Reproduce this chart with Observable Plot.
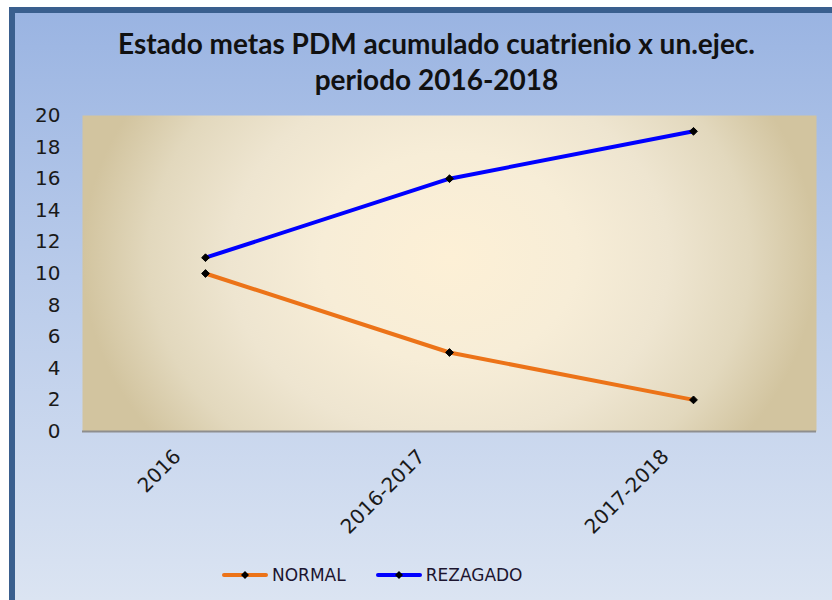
<!DOCTYPE html>
<html>
<head>
<meta charset="utf-8">
<script src="https://cdn.jsdelivr.net/npm/d3@7"></script>
<script src="https://cdn.jsdelivr.net/npm/@observablehq/plot@0.6"></script>
<style>
  html, body { margin: 0; padding: 0; background: #ffffff; }
  #wrap { position: relative; width: 832px; height: 600px; overflow: hidden; }
  #panel {
    position: absolute; left: 9px; top: 7px; width: 823px; height: 593px;
    box-sizing: border-box;
    border-left: 6px solid #3a5f8e; border-top: 6px solid #3a5f8e;
    background: linear-gradient(to bottom, #9ab4e2 0%, #b9cbea 45%, #dbe4f2 100%);
  }
  #title {
    position: absolute; left: 15px; width: 843px; top: 25px;
    text-align: center; font-family: Lato, "Open Sans", sans-serif; font-weight: bold;
    font-size: 28px; line-height: 36px; color: #111;
  }
  #chart { position: absolute; left: 0; top: 100px; }
  #legend {
    position: absolute; top: 565px; left: 222px;
    font-family: "DejaVu Sans", sans-serif; font-size: 17px; color: #1c1530;
    display: flex; align-items: center;
  }
  .item { display: flex; align-items: center; }
  .item svg { margin-right: 4px; }
</style>
</head>
<body>
<div id="wrap">
  <div id="panel"></div>
  <div id="title">Estado metas PDM acumulado cuatrienio x un.ejec.<br>periodo 2016-2018</div>
  <div id="chart"></div>
  <div id="legend"></div>
</div>
<script>
const categories = ["2016", "2016-2017", "2017-2018"];
const seriesNames = ["NORMAL", "REZAGADO"];
const normalValues = [10, 5, 2];
const rezagadoValues = [11, 16, 19];
const yTicks = [0, 2, 4, 6, 8, 10, 12, 14, 16, 18, 20];
const seriesColors = ["#ec7318", "#0000ff"];

const data = [];
categories.forEach((c, i) => {
  data.push({periodo: c, serie: seriesNames[0], valor: normalValues[i]});
  data.push({periodo: c, serie: seriesNames[1], valor: rezagadoValues[i]});
});

const chart = Plot.plot({
  width: 832,
  height: 450,
  marginLeft: 82,
  marginRight: 16,
  marginTop: 15,
  marginBottom: 119,
  style: {background: "transparent", fontFamily: "DejaVu Sans, sans-serif", fontSize: "20px", color: "#1a1a1a"},
  x: {type: "point", domain: categories, padding: 0.5, label: null},
  y: {domain: [0, 20], label: null},
  color: {domain: seriesNames, range: seriesColors},
  marks: [
    Plot.frame({fill: "url(#plotBg)", stroke: "none"}),
    Plot.ruleY([0], {stroke: "#8e8e8e", strokeWidth: 2}),
    Plot.axisY({ticks: yTicks, tickSize: 0, tickPadding: 22, fontSize: 20, fill: "#1a1a1a"}),
    Plot.axisX({tickSize: 0, tickRotate: -45, fontSize: 20, fill: "#1a1a1a", dx: -28, dy: 10}),
    Plot.line(data, {x: "periodo", y: "valor", z: "serie", stroke: "serie", strokeWidth: 4}),
    Plot.dot(data, {x: "periodo", y: "valor", symbol: "diamond2", fill: "black", stroke: "black", strokeWidth: 1, r: 3.5})
  ]
});

const svg = d3.select(chart);
const defs = svg.insert("defs", ":first-child");
const g = defs.append("radialGradient").attr("id", "plotBg")
  .attr("cx", "0.5").attr("cy", "0.45").attr("r", "0.5")
  .attr("gradientTransform", "translate(0.5,0.45) scale(1,1.9) translate(-0.5,-0.45)");
g.append("stop").attr("offset", "0").attr("stop-color", "#fdf0d6");
g.append("stop").attr("offset", "0.35").attr("stop-color", "#f7edd7");
g.append("stop").attr("offset", "0.6").attr("stop-color", "#eee5d0");
g.append("stop").attr("offset", "0.82").attr("stop-color", "#e2d8bd");
g.append("stop").attr("offset", "1").attr("stop-color", "#d2c49f");

document.getElementById("chart").appendChild(chart);

const legend = d3.select("#legend");
seriesNames.forEach((name, i) => {
  const item = legend.append("div").attr("class", "item");
  const s = item.append("svg").attr("width", 46).attr("height", 12);
  s.append("line").attr("x1", 2).attr("x2", 44).attr("y1", 6).attr("y2", 6)
    .attr("stroke", seriesColors[i]).attr("stroke-width", 4).attr("stroke-linecap", "round");
  s.append("path").attr("d", "M23,2 L27,6 L23,10 L19,6 Z").attr("fill", "black");
  item.append("span").text(name);
  if (i === 0) item.style("margin-right", "30px");
});
</script>
</body>
</html>
